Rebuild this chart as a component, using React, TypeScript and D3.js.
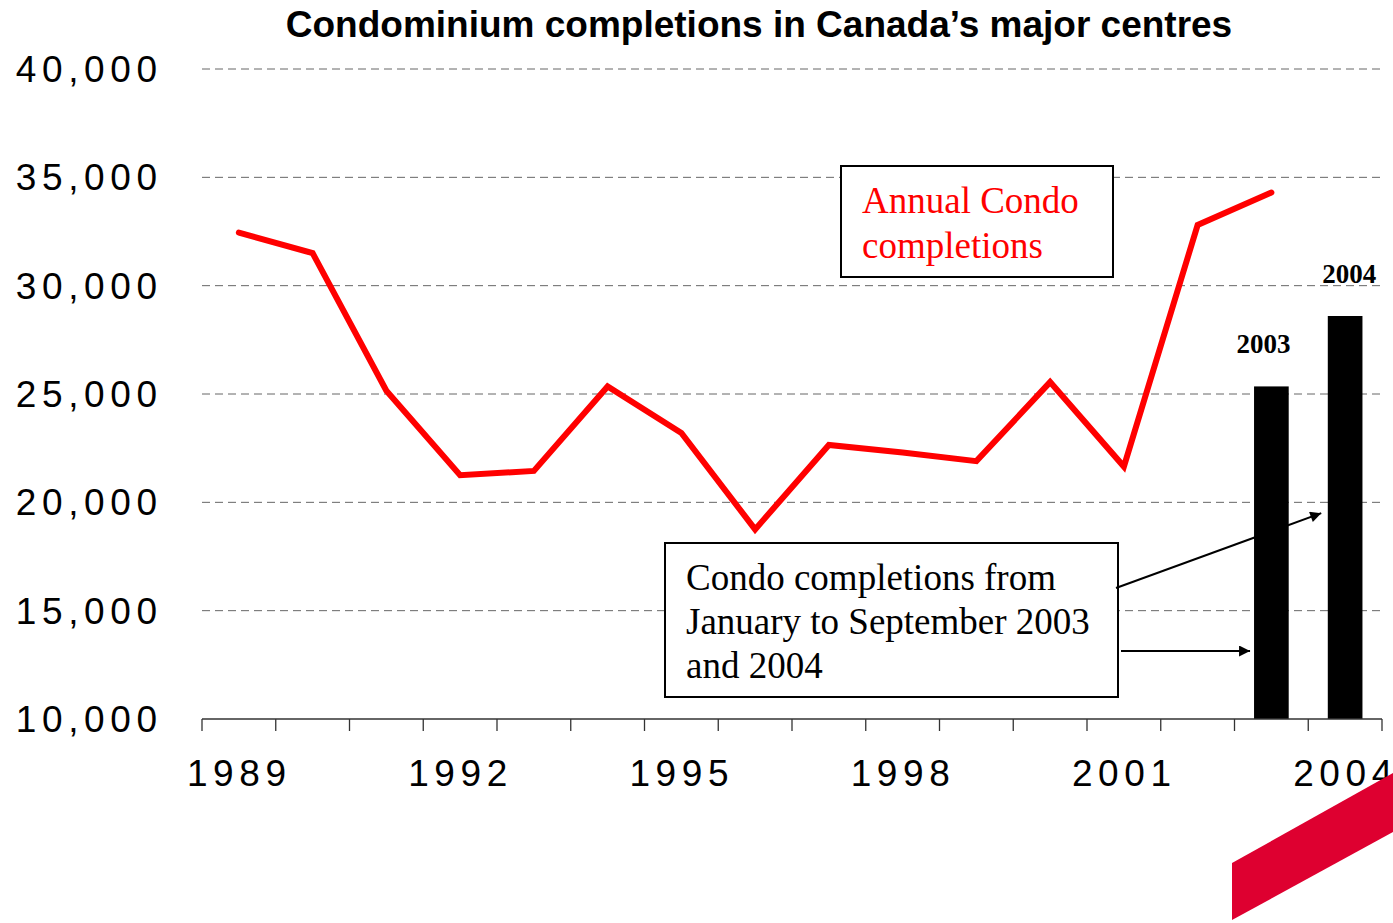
import React from 'react';
import * as d3 from 'd3';

const YEARS = [1989, 1990, 1991, 1992, 1993, 1994, 1995, 1996, 1997, 1998, 1999, 2000, 2001, 2002, 2003, 2004];
const ANNUAL_YEARS = [1989, 1990, 1991, 1992, 1993, 1994, 1995, 1996, 1997, 1998, 1999, 2000, 2001, 2002, 2003];
const ANNUAL_COMPLETIONS = [32450, 31500, 25150, 21250, 21450, 25350, 23200, 18750, 22650, 22300, 21900, 25550, 21650, 32800, 34300];
const PARTIAL_YEARS = [2003, 2004];
const PARTIAL_COMPLETIONS = [25350, 28600];
const Y_TICKS = [10000, 15000, 20000, 25000, 30000, 35000, 40000];
const X_LABEL_YEARS = [1989, 1992, 1995, 1998, 2001, 2004];

const SANS = '"Liberation Sans", Arial, sans-serif';
const SERIF = '"Liberation Serif", "Times New Roman", serif';

export default function App() {
    const width = 1393;
    const height = 923;
    const plot = { left: 202, right: 1382, top: 69, bottom: 719 };

    const xScale = d3.scaleBand<number>()
        .domain(YEARS)
        .range([plot.left, plot.right])
        .padding(0);

    const yScale = d3.scaleLinear()
        .domain([10000, 40000])
        .range([plot.bottom, plot.top]);

    const bw = xScale.bandwidth();
    const cx = (yr: number) => (xScale(yr) as number) + bw / 2;

    const line = d3.line<number>()
        .x((d, i) => cx(ANNUAL_YEARS[i]))
        .y(d => yScale(d))
        .curve(d3.curveLinear);

    const tickXs = YEARS.map(yr => xScale(yr) as number).concat([plot.right]);
    const fmt = d3.format(',');
    const barW = bw * 0.47;
    const axisSpacing = 5.6;

    return (
        <div style={{ position: 'absolute', left: 0, top: 0 }}>
            <svg width={width} height={height} style={{ display: 'block', background: '#fff' }}>
                <defs>
                    <marker id="arrow" viewBox="0 0 10 10" refX="10" refY="5"
                        markerWidth="16" markerHeight="11" markerUnits="userSpaceOnUse" orient="auto">
                        <path d="M0,0 L10,5 L0,10 z" fill="#000" />
                    </marker>
                </defs>

                {/* title */}
                <text x={759} y={37} textAnchor="middle" fontFamily={SANS} fontWeight="bold" fontSize={37}>
                    Condominium completions in Canada’s major centres
                </text>

                {/* grid */}
                {Y_TICKS.filter(t => t > 10000).map(t => (
                    <line key={t} x1={plot.left} x2={plot.right} y1={yScale(t)} y2={yScale(t)}
                        stroke="#666" strokeWidth={1} strokeDasharray="8,5" />
                ))}

                {/* y labels */}
                {Y_TICKS.map(t => (
                    <text key={t} x={157 + axisSpacing} y={yScale(t) + 13} textAnchor="end" fontFamily={SANS}
                        fontSize={37} letterSpacing={axisSpacing}>
                        {fmt(t)}
                    </text>
                ))}

                {/* bars Jan-Sep */}
                {PARTIAL_YEARS.map((yr, i) => (
                    <g key={yr}>
                        <rect x={cx(yr) - barW / 2} y={yScale(PARTIAL_COMPLETIONS[i])}
                            width={barW} height={plot.bottom - yScale(PARTIAL_COMPLETIONS[i])} fill="#000" />
                        <text x={cx(yr) - 8 + i * 12} y={yScale(PARTIAL_COMPLETIONS[i]) - 33}
                            textAnchor="middle" fontFamily={SERIF} fontWeight="bold" fontSize={27}>
                            {yr}
                        </text>
                    </g>
                ))}

                {/* annual line */}
                <path d={line(ANNUAL_COMPLETIONS) || ''} fill="none" stroke="#ff0000" strokeWidth={6}
                    strokeLinejoin="miter" strokeLinecap="round" />

                {/* x axis */}
                <line x1={plot.left} x2={plot.right} y1={plot.bottom} y2={plot.bottom} stroke="#333" strokeWidth={1.3} />
                {tickXs.map((x, i) => (
                    <line key={i} x1={x} x2={x} y1={plot.bottom} y2={plot.bottom + 12} stroke="#333" strokeWidth={1.3} />
                ))}
                {X_LABEL_YEARS.map(yr => (
                    <text key={yr} x={cx(yr) + 0.4} y={786} textAnchor="middle" fontFamily={SANS}
                        fontSize={37} letterSpacing={axisSpacing}>
                        {yr}
                    </text>
                ))}

                {/* legend box */}
                <rect x={841} y={166} width={272} height={111} fill="#fff" stroke="#000" strokeWidth={2} />
                <text fontFamily={SERIF} fontSize={37} fill="#ff0000">
                    <tspan x={862} y={213}>Annual Condo</tspan>
                    <tspan x={862} y={258}>completions</tspan>
                </text>

                {/* note box */}
                <rect x={665} y={543} width={453} height={154} fill="#fff" stroke="#000" strokeWidth={2} />
                <text fontFamily={SERIF} fontSize={37} fill="#000">
                    <tspan x={686} y={590}>Condo completions from</tspan>
                    <tspan x={686} y={634}>January to September 2003</tspan>
                    <tspan x={686} y={678}>and 2004</tspan>
                </text>
                <line x1={1116} y1={588} x2={xScale(2004)! + 13} y2={yScale(19500)} stroke="#000" strokeWidth={2}
                    markerEnd="url(#arrow)" />
                <line x1={1121} y1={651} x2={cx(2003) - barW / 2 - 4} y2={651} stroke="#000" strokeWidth={2}
                    markerEnd="url(#arrow)" />

                {/* corner decoration */}
                <path d="M1232,863 L1393,773 L1393,832 L1232,920 Z" fill="#de0030" />
            </svg>
        </div>
    );
}
